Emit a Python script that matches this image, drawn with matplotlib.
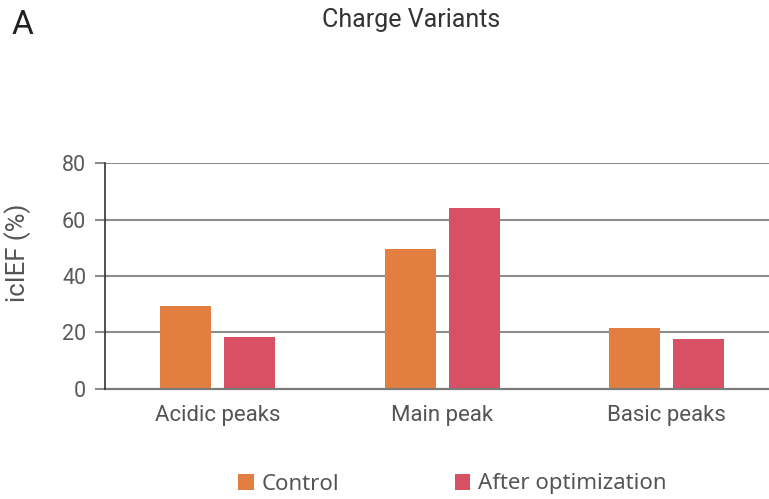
import matplotlib.pyplot as plt
import numpy as np

# Data
categories = ["Acidic peaks", "Main peak", "Basic peaks"]
control = [29.4, 49.6, 21.5]
optimized = [18.3, 64.1, 17.6]
series_names = ["Control", "After optimization"]
yticks = [0, 20, 40, 60, 80]

orange = "#E37E41"
red = "#D85064"


def main():
    plt.rcParams["font.family"] = ["Roboto", "DejaVu Sans"]
    fig = plt.figure(figsize=(7.69, 4.99), dpi=100)
    ax = fig.add_axes([0.137, 0.221, 0.876, 0.4517])

    x = np.arange(len(categories))
    w = 0.227
    off = 0.1425
    ax.bar(x - off, control, w, color=orange, label=series_names[0], zorder=3)
    ax.bar(x + off, optimized, w, color=red, label=series_names[1], zorder=3)

    ax.set_xlim(-0.5, 2.5)
    ax.set_ylim(0, 80)
    ax.set_yticks(yticks)
    ax.set_xticks(x)
    ax.set_xticklabels(categories)

    # grid lines
    for v in yticks[1:]:
        ax.axhline(v, color="#8c8c8c", lw=1.5, zorder=1)
    ax.axhline(0, color="#7a7a7a", lw=1.6, zorder=4, clip_on=False)

    for s in ["top", "right", "bottom"]:
        ax.spines[s].set_visible(False)
    ax.spines["left"].set_color("#333333")
    ax.spines["left"].set_linewidth(1.2)
    ax.spines["left"].set_zorder(5)

    ax.tick_params(axis="y", length=7.2, width=1.5, color="#8c8c8c",
                   pad=6.5, labelsize=15.5, labelcolor="#5a5a5a")
    ax.tick_params(axis="x", length=0, pad=11.5, labelsize=16,
                   labelcolor="#555555")
    ax.set_ylabel("icIEF (%)", fontsize=18.5, color="#555555")
    ax.yaxis.set_label_coords(-0.111, 0.602)

    fig.text(0.535, 1 - 20 / 499, "Charge Variants", ha="center",
             va="center", fontsize=18, color="#333333")
    fig.text(12 / 769, 1 - 25 / 499, "A", ha="left", va="center",
             fontsize=24, color="#222222")

    leg = fig.legend(loc="center", bbox_to_anchor=(0.588, 1 - 484 / 499),
                     ncol=2, frameon=False, handlelength=0.7,
                     handleheight=0.7, handletextpad=0.35,
                     columnspacing=5.2, borderpad=0,
                     prop={"family": ["Noto Sans", "DejaVu Sans"], "size": 16})
    for t in leg.get_texts():
        t.set_color("#555555")

    fig.savefig("out.png", dpi=100)


if __name__ == "__main__":
    main()
